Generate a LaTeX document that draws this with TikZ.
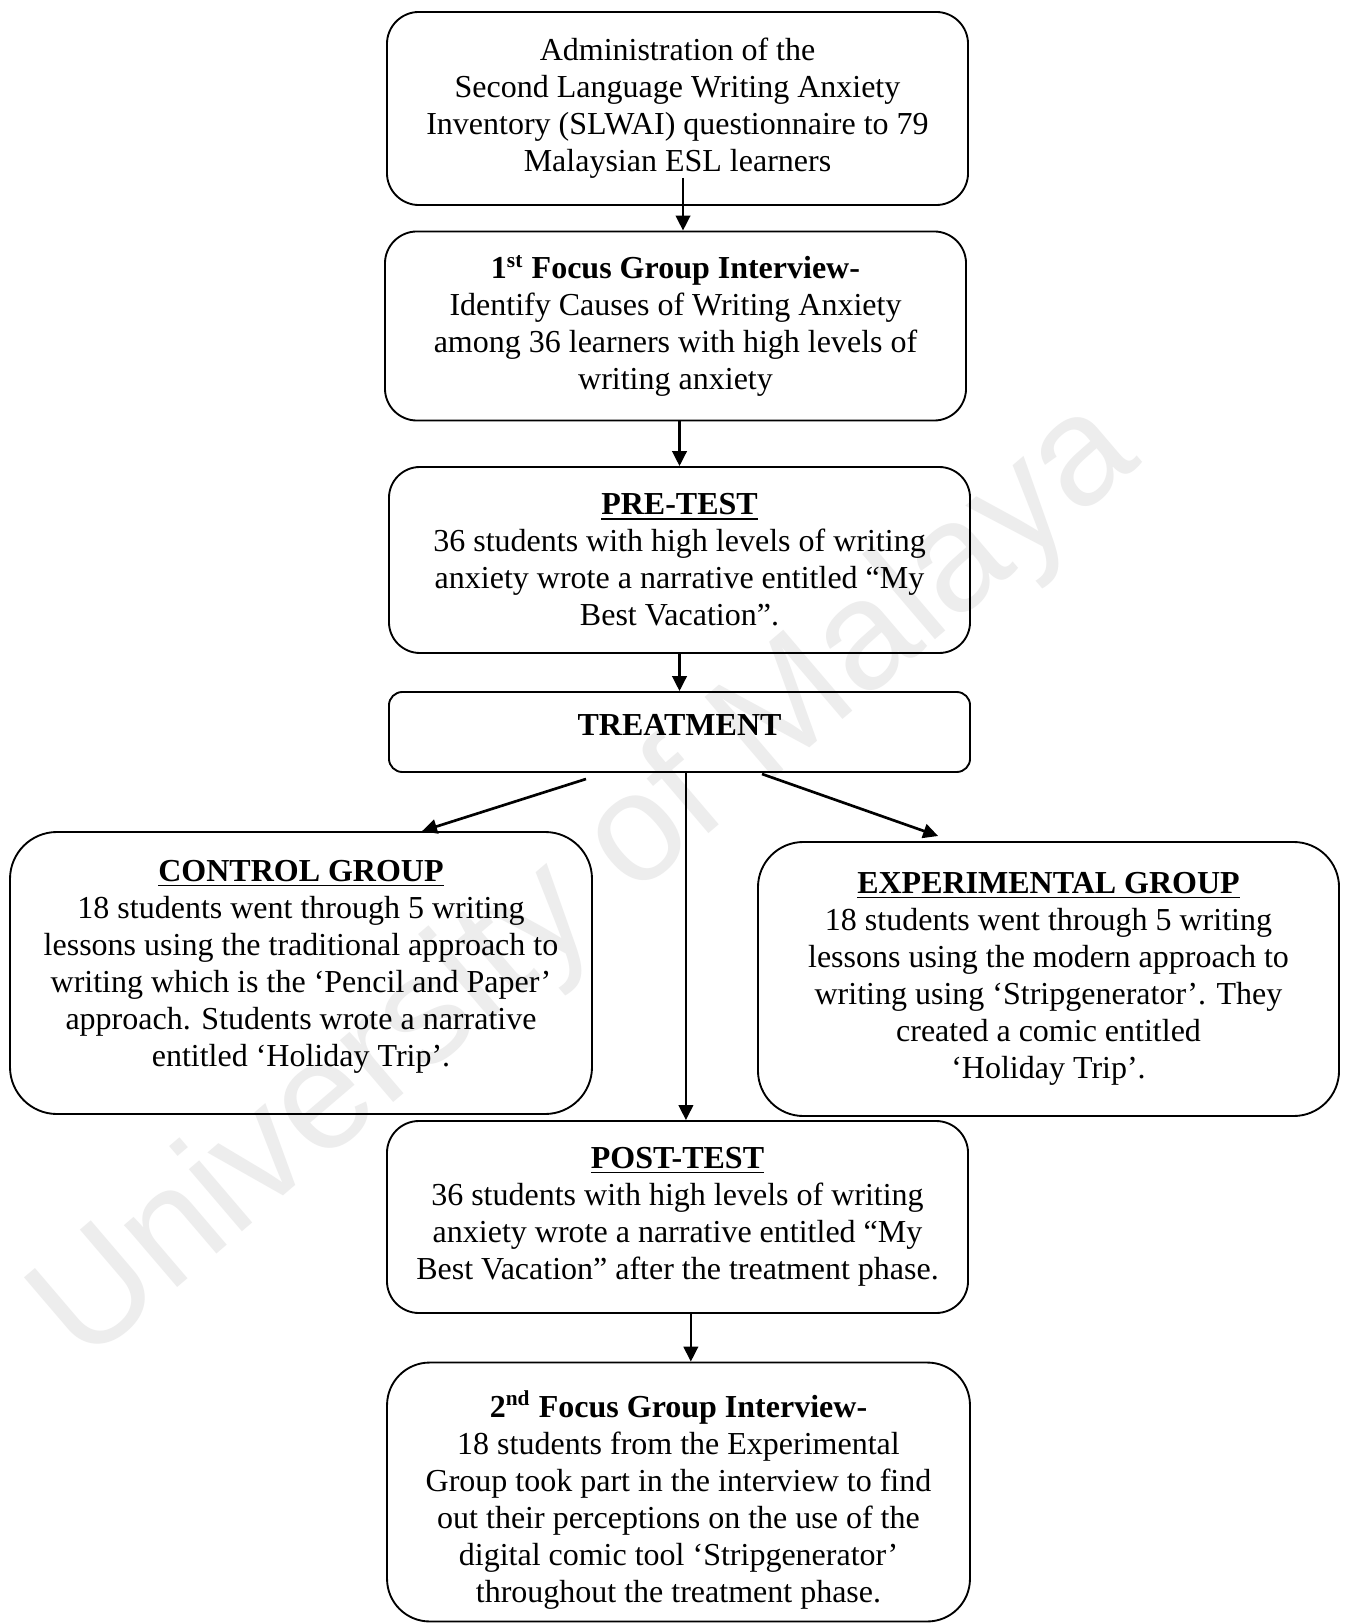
\documentclass[tikz,border=0pt]{standalone}
\usepackage{fontspec}
\setmainfont{Liberation Serif}
\newfontfamily\wmfont{Liberation Sans}
\usetikzlibrary{arrows.meta,calc}
\begin{document}
\begin{tikzpicture}[x=0.375pt,y=-0.375pt,
  box/.style={draw, line width=0.7pt, align=center, inner sep=0pt,
    font=\fontsize{12}{13.85}\selectfont},
  txt/.style={align=center, inner sep=0pt, font=\fontsize{12}{13.85}\selectfont},
  arr/.style={line width=1pt, -{Triangle[length=5.6pt,width=5.4pt]}},
  wm/.style={text=black!7, font=\wmfont\fontsize{58}{62}\selectfont, inner sep=0pt}
]
\useasboundingbox (0,0) rectangle (1345,1624);
\fill[white] (0,0) rectangle (1345,1624);
% watermark
\node[wm, rotate=40.5] (wmark) at (588,884) {University of Malaya};

\node[box, rounded corners=12pt, minimum width=217.9pt, minimum height=72.4pt] (b1) at (677.5,108.5)
  {Administration of the\\Second Language Writing Anxiety\\Inventory (SLWAI) questionnaire to 79\\Malaysian ESL learners};
\node[box, rounded corners=12pt, minimum width=217.9pt, minimum height=70.9pt] (b2) at (675.5,326)
  {\textbf{1\textsuperscript{st} Focus Group Interview-}\\Identify Causes of Writing Anxiety\\among 36 learners with high levels of\\writing anxiety};
\node[box, rounded corners=11.6pt, minimum width=217.9pt, minimum height=69.75pt] (b3) at (679.5,560)
  {\textbf{\underline{PRE-TEST}}\\36 students with high levels of writing\\anxiety wrote a narrative entitled ``My\\Best Vacation''.};
\node[box, rounded corners=5pt, minimum width=217.9pt, minimum height=30pt] (tr) at (679.5,732) {};
\node[txt, font=\fontsize{12}{13.85}\selectfont\bfseries] (trt) at (679.5,725) {TREATMENT};
\node[box, rounded corners=17.6pt, minimum width=218.25pt, minimum height=105.75pt] (ctrl) at (301,973) {};
\node[txt] (ctrlt) at (301,967)
  {\textbf{\underline{CONTROL GROUP}}\\18 students went through 5 writing\\lessons using the traditional approach to\\writing which is the `Pencil and Paper'\\approach. Students wrote a narrative\\entitled `Holiday Trip'.};
\node[box, rounded corners=17pt, minimum width=217.9pt, minimum height=102.75pt] (exp) at (1048.5,979)
  {\textbf{\underline{EXPERIMENTAL GROUP}}\\18 students went through 5 writing\\lessons using the modern approach to\\writing using `Stripgenerator'. They\\created a comic entitled\\`Holiday Trip'.};
\node[box, rounded corners=12pt, minimum width=217.9pt, minimum height=72pt] (post) at (677.5,1217)
  {\textbf{\underline{POST-TEST}}\\36 students with high levels of writing\\anxiety wrote a narrative entitled ``My\\Best Vacation'' after the treatment phase.};
\node[box, rounded corners=16pt, minimum width=218.6pt, minimum height=97.1pt] (fg2) at (678.5,1492) {};
\node[txt] (fg2t) at (678.5,1500)
  {\textbf{2\textsuperscript{nd} Focus Group Interview-}\\18 students from the Experimental\\Group took part in the interview to find\\out their perceptions on the use of the\\digital comic tool `Stripgenerator'\\throughout the treatment phase.};

% connectors
\coordinate (a1s) at (683,178);
\draw[arr] (a1s) -- (a1s |- b2.north);
\draw[arr] (b3.north |- b2.south) -- (b3.north);
\draw[arr] (b3.south) -- (b3.south |- tr.north);
\coordinate (ls) at (586,779);
\draw[arr] (ls) -- ([xshift=45.4pt]ctrl.north);
\coordinate (rs) at (762,774);
\draw[arr] (rs) -- ([xshift=-41.4pt,yshift=1.9pt]exp.north);
\draw[arr] ([xshift=2.4pt]tr.south) -- ([xshift=2.4pt]tr.south |- post.north);
\draw[arr] ([xshift=5pt]post.south) -- ([xshift=5pt]post.south |- fg2.north);
\end{tikzpicture}
\end{document}
